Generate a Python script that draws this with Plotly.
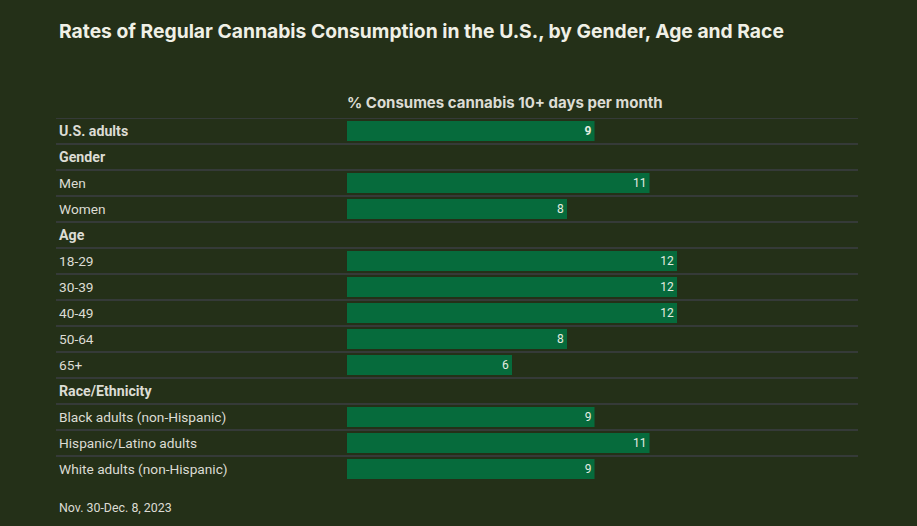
import plotly.graph_objects as go

# data
labels = ["U.S. adults", "Gender", "Men", "Women", "Age", "18-29", "30-39",
          "40-49", "50-64", "65+", "Race/Ethnicity", "Black adults (non-Hispanic)",
          "Hispanic/Latino adults", "White adults (non-Hispanic)"]
values = [9, None, 11, 8, None, 12, 12, 12, 8, 6, None, 9, 11, 9]
bold_rows = ["U.S. adults", "Gender", "Age", "Race/Ethnicity"]

title = "Rates of Regular Cannabis Consumption in the U.S., by Gender, Age and Race"
col_header = "% Consumes cannabis 10+ days per month"
footnote = "Nov. 30-Dec. 8, 2023"

BG = "#243018"
BAR = "#066b3c"
LINE = "#353a38"
TXT = "#dcdcd4"
FONT = "Roboto"

ypos = list(range(len(labels)))
bar_text = []
for lab, v in zip(labels, values):
    if v is None:
        bar_text.append("")
    elif lab in bold_rows:
        bar_text.append("<b>%d</b>" % v)
    else:
        bar_text.append(str(v))

fig = go.Figure()
fig.add_trace(go.Bar(
    x=values, y=ypos, orientation="h",
    marker=dict(color=BAR, line=dict(width=0)),
    text=bar_text, textposition="inside", insidetextanchor="end",
    textfont=dict(color="#e4ece0", size=12, family=FONT),
    textangle=0, hoverinfo="skip", cliponaxis=False,
))

# row labels on the left
for i, lab in enumerate(labels):
    if lab in bold_rows:
        txt, size = "<b>%s</b>" % lab, 14.2
    else:
        txt, size = lab, 13.7
    fig.add_annotation(x=0, xref="paper", y=i, yref="y", text=txt,
                       showarrow=False, xanchor="left", yanchor="middle",
                       xshift=1, font=dict(size=size, color=TXT, family=FONT))

# separator lines between rows
for i in range(len(labels)):
    fig.add_shape(type="line", xref="paper", yref="y", x0=0, x1=1,
                  y0=i - 0.5, y1=i - 0.5, line=dict(color=LINE, width=2),
                  layer="below")

fig.add_annotation(x=0, xref="x", y=1, yref="paper", yshift=16, xshift=-2,
                   text="<b>%s</b>" % col_header, showarrow=False,
                   xanchor="left", yanchor="middle",
                   font=dict(size=15, color=TXT, family="Inter"))
fig.add_annotation(x=0, xref="paper", y=0, yref="paper", yshift=-25, xshift=1,
                   text=footnote, showarrow=False, xanchor="left", yanchor="middle",
                   font=dict(size=12.4, color=TXT, family=FONT))

fig.update_layout(
    width=917, height=526,
    paper_bgcolor=BG, plot_bgcolor=BG,
    margin=dict(l=56, r=59, t=118, b=44),
    title=dict(text="<b>%s</b>" % title, x=59 / 917, xanchor="left",
               y=1 - 31 / 526, yanchor="middle",
               font=dict(size=19.3, color="#f0f0e6", family="Inter")),
    bargap=0.23, showlegend=False,
    xaxis=dict(range=[-10.58, 18.58], visible=False, fixedrange=True),
    yaxis=dict(range=[len(labels) - 0.5, -0.5], visible=False, fixedrange=True),
)

fig.write_html("out.html", config={"displayModeBar": False},
               post_script="document.body.style.margin='0';")
